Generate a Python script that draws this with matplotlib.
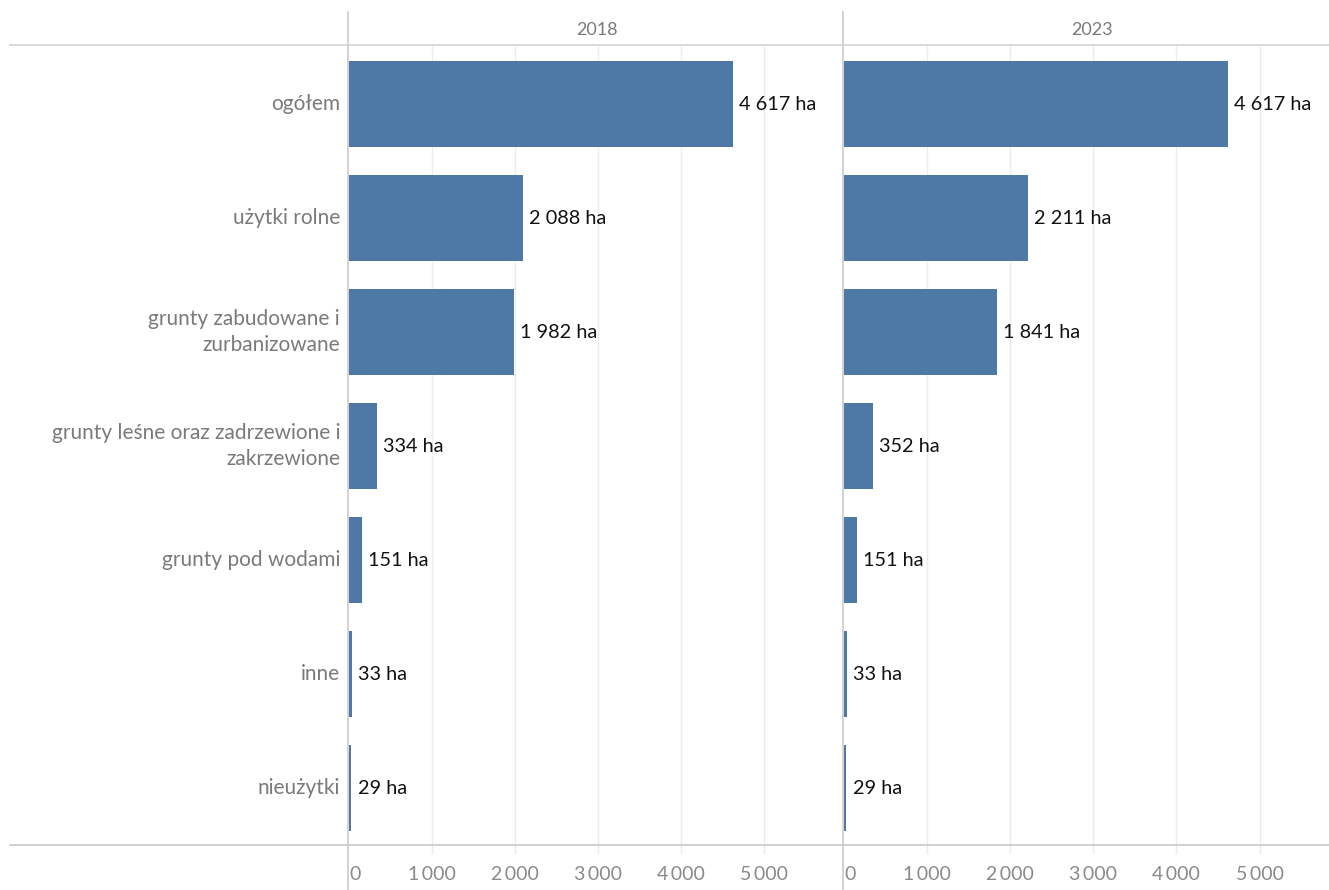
import matplotlib
matplotlib.use("Agg")
import matplotlib.pyplot as plt
from matplotlib.lines import Line2D

categories = ["ogółem", "użytki rolne", "grunty zabudowane i\nzurbanizowane",
              "grunty leśne oraz zadrzewione i\nzakrzewione", "grunty pod wodami",
              "inne", "nieużytki"]
years = ["2018", "2023"]
values_2018 = [4617, 2088, 1982, 334, 151, 33, 29]
values_2023 = [4617, 2211, 1841, 352, 151, 33, 29]
ticks = [0, 1000, 2000, 3000, 4000, 5000]
tick_labels = ["0", "1\u2009000", "2\u2009000", "3\u2009000", "4\u2009000", "5\u2009000"]

W, H = 1329, 890
plt.rcParams['font.family'] = ['Lato', 'DejaVu Sans']
fig = plt.figure(figsize=(W / 100, H / 100), dpi=100)

def fx(px):
    return px / W

def fy(py):
    return 1 - py / H

bar_color = "#4e79a7"
grey_txt = "#7a7a7a"
px_per_k = 83.1

panels = [(349, 843, values_2018, years[0]), (844, 1329, values_2023, years[1])]
for x0, x1, vals, yr in panels:
    ax = fig.add_axes([fx(x0), fy(845), fx(x1 - x0), fy(47) - fy(845)])
    ax.set_xlim(0, (x1 - x0) / px_per_k * 1000)
    ax.set_ylim(len(categories) - 0.5, -0.5)
    for t in ticks[1:]:
        ax.axvline(t, ymin=-0.01, ymax=1.003, color="#ececec", lw=1, zorder=0, clip_on=False)
    ypos = list(range(len(categories)))
    ax.barh(ypos, vals, height=0.755, color=bar_color, zorder=2)
    for y, v in zip(ypos, vals):
        lab = f"{v:,}".replace(",", " ") + " ha"
        ax.text(v + 75, y, lab, va="center", ha="left", fontsize=14.3, color="#111111")
    ax.set_xticks(ticks)
    ax.set_xticklabels(tick_labels, fontsize=14, color="#8a8a8a")
    ax.get_xticklabels()[0].set_ha("left")
    ax.tick_params(axis="x", length=0, pad=15)
    ax.set_yticks([])
    for s in ax.spines.values():
        s.set_visible(False)
    fig.text(fx((x0 + x0 + 496) / 2), fy(30), yr, ha="center", va="center",
             fontsize=13, color=grey_txt)
    if x0 == 349:
        for y, c in zip(ypos, categories):
            ax.text(-9 / px_per_k * 1000, y, c, ha="right", va="center", fontsize=15,
                    color=grey_txt, linespacing=1.4)

# frame lines
fig.add_artist(Line2D([fx(10), 1], [fy(45), fy(45)], color="#d4d4d4", lw=1.2))
fig.add_artist(Line2D([fx(10), 1], [fy(845), fy(845)], color="#c8c8c8", lw=1.2))
for x in (348, 843):
    fig.add_artist(Line2D([fx(x), fx(x)], [fy(12), 0], color="#cfcfcf", lw=1.3))

fig.savefig("out.png", dpi=100)
